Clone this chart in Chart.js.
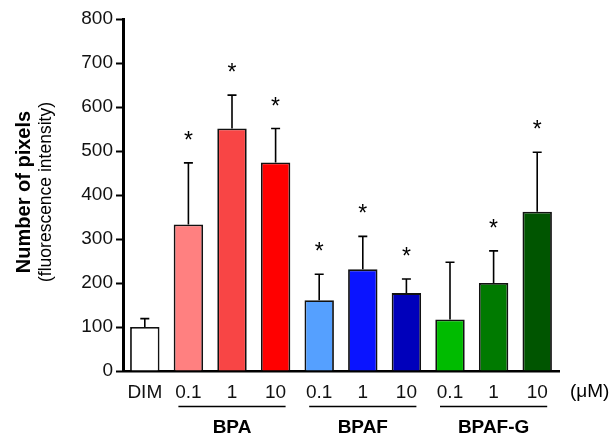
<!DOCTYPE html>
<html>
<head>
<meta charset="utf-8">
<script src="https://cdn.jsdelivr.net/npm/chart.js@4/dist/chart.umd.min.js"></script>
<style>
  html, body { margin: 0; padding: 0; background: #fff; }
  canvas { display: block; }
</style>
</head>
<body>
<canvas id="pixelChart" width="611" height="441"></canvas>
<script>
// data
const categories = ['DIM', '0.1', '1', '10', '0.1', '1', '10', '0.1', '1', '10'];
const pixelMeans = [100, 333, 551, 474, 161, 231, 177, 117, 200, 362];
const pixelErrors = [19, 140, 76, 77, 59, 75, 32, 130, 73, 135];
const significant = [false, true, true, true, true, true, true, false, true, true];
const barColors = ['#FFFFFF', '#FF8080', '#F84545', '#FF0000', '#55A0FF', '#0A14FF', '#0000BB', '#00BB00', '#007A00', '#005500'];
const groups = [
    { name: 'BPA', from: 1, to: 3 },
    { name: 'BPAF', from: 4, to: 6 },
    { name: 'BPAF-G', from: 7, to: 9 }
];
const yTicks = [0, 100, 200, 300, 400, 500, 600, 700, 800];

const FONT = 'Liberation Sans, Arial, sans-serif';

// error bars, stars, group lines and titles
const extras = {
    id: 'extras',
    afterDatasetsDraw(chart) {
        const { ctx, scales: { x, y }, chartArea } = chart;
        ctx.save();
        ctx.strokeStyle = '#000';
        ctx.fillStyle = '#000';
        ctx.lineWidth = 1.6;
        pixelMeans.forEach((v, i) => {
            const cx = x.getPixelForValue(i);
            const yTop = y.getPixelForValue(v);
            const yErr = y.getPixelForValue(v + pixelErrors[i]);
            ctx.beginPath();
            ctx.moveTo(cx, yTop);
            ctx.lineTo(cx, yErr);
            ctx.moveTo(cx - 4.5, yErr);
            ctx.lineTo(cx + 4.5, yErr);
            ctx.stroke();
            if (significant[i]) {
                ctx.font = '23px ' + FONT;
                ctx.textAlign = 'center';
                ctx.textBaseline = 'alphabetic';
                ctx.fillText('*', cx, yErr - 15);
            }
        });

        // group lines + names
        groups.forEach(g => {
            const x1 = x.getPixelForValue(g.from) - 10;
            const x2 = x.getPixelForValue(g.to) + 10;
            ctx.beginPath();
            ctx.moveTo(x1, 406.5);
            ctx.lineTo(x2, 406.5);
            ctx.stroke();
            ctx.font = 'bold 19px ' + FONT;
            ctx.textAlign = 'center';
            ctx.textBaseline = 'middle';
            ctx.fillText(g.name, (x1 + x2) / 2, 428);
        });

        // unit
        ctx.font = '19px ' + FONT;
        ctx.textAlign = 'left';
        ctx.textBaseline = 'middle';
        ctx.fillText('(\u03BCM)', chartArea.right + 11, 392);

        // y titles
        const midY = 192;
        ctx.translate(24, midY);
        ctx.rotate(-Math.PI / 2);
        ctx.textAlign = 'center';
        ctx.textBaseline = 'middle';
        ctx.font = 'bold 20px ' + FONT;
        ctx.fillText('Number of pixels', 0, 0);
        ctx.font = '17.5px ' + FONT;
        ctx.fillText('(fluorescence intensity)', 0, 22);
        ctx.restore();
    }
};

new Chart(document.getElementById('pixelChart'), {
    type: 'bar',
    data: {
        labels: categories,
        datasets: [{
            data: pixelMeans,
            backgroundColor: barColors,
            borderColor: '#111',
            borderWidth: 1.8,
            categoryPercentage: 1,
            barPercentage: 0.675
        }]
    },
    options: {
        responsive: false,
        animation: false,
        layout: { padding: { left: 0, right: 52, top: 19, bottom: 0 } },
        plugins: {
            legend: { display: false },
            tooltip: { enabled: false }
        },
        scales: {
            x: {
                grid: { display: true, drawOnChartArea: false, drawTicks: false },
                border: { display: true, color: '#000', width: 2.5 },
                ticks: {
                    color: '#111',
                    padding: 10,
                    font: { family: FONT, size: 19 },
                    maxRotation: 0,
                    autoSkip: false
                },
                afterFit: s => { s.height = 70; }
            },
            y: {
                min: 0,
                max: 800,
                afterBuildTicks: s => { s.ticks = yTicks.map(v => ({ value: v })); },
                grid: { drawOnChartArea: false, drawTicks: true, tickLength: 7, color: '#000', tickWidth: 2 },
                border: { display: true, color: '#000', width: 3 },
                ticks: {
                    color: '#111',
                    padding: 3,
                    font: { family: FONT, size: 19 }
                },
                afterFit: s => { s.width = 123; }
            }
        }
    },
    plugins: [extras]
});
</script>
</body>
</html>
